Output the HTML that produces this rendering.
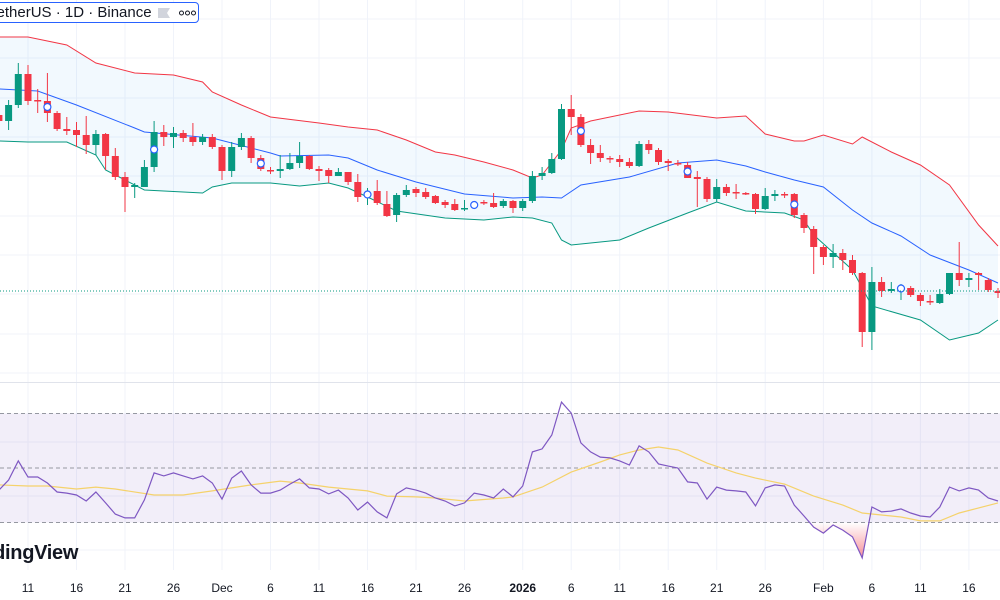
<!DOCTYPE html>
<html><head><meta charset="utf-8"><style>
html,body{margin:0;padding:0;background:#fff;width:1000px;height:600px;overflow:hidden;font-family:"Liberation Sans",sans-serif;}
#wrap{position:relative;width:1000px;height:600px;}
svg{position:absolute;left:0;top:0;}
.legend{position:absolute;left:-12px;top:2px;width:211px;height:21px;border:1px solid #2962ff;border-radius:4px;background:#fff;box-sizing:border-box;}
.legend span{position:absolute;top:1px;font-size:15px;color:#131722;white-space:nowrap;}
.logo{position:absolute;left:-36px;top:542px;font-size:20px;font-weight:bold;color:#131722;letter-spacing:-0.3px;}
</style></head><body>
<div id="wrap">
<svg id="chart" width="1000" height="600"></svg>
<div class="legend">
<span style="left:0px">TetherUS · 1D · Binance</span>
<svg style="left:168px;top:4px" width="14" height="12"><path d="M1 1 H13 L10 6 L13 11 H1 Z" fill="#d1d4dc"/></svg>
<svg style="left:190px;top:7px" width="18" height="6"><circle cx="2.5" cy="3" r="2" fill="none" stroke="#131722" stroke-width="1"/><circle cx="8.5" cy="3" r="2" fill="none" stroke="#131722" stroke-width="1"/><circle cx="14.5" cy="3" r="2" fill="none" stroke="#131722" stroke-width="1"/></svg>
</div>
<div class="logo">TradingView</div>
</div>
<script>
const firstDay = -3;
const opens  = [885,879,895,926,900,899,887,871,870,865,855,866,844,823,813,813,833,868,863,867,863,858,863,853,829,853,862,842,830,829,831,837,844,831,830,824,828,818,805,809,796,785,805,811,808,804,798,796,791,795,798,797,794,799,792,799,824,827,841,891,883,855,847,842,841,838,834,856,850,839,837,835,823,821,801,813,808,807,806,791,804,806,806,785,771,753,743,747,740,727,668,718,709,711,712,705,699,697,706,727,720,727,720,709];
const highs  = [888,900,937,935,911,927,889,883,878,884,870,867,852,828,817,840,879,875,873,870,877,866,866,855,858,867,864,845,833,845,847,858,845,834,832,832,828,826,812,820,809,807,815,813,812,805,800,801,800,797,800,807,801,800,801,829,833,847,896,905,886,861,855,844,845,842,859,860,852,841,840,838,829,823,821,816,816,808,807,812,810,808,807,787,774,755,756,751,745,728,733,723,718,716,714,707,705,711,727,758,727,728,722,712];
const lows   = [876,870,892,895,887,878,869,865,853,846,845,830,820,788,802,813,828,854,852,858,854,855,851,820,823,850,837,829,826,822,830,832,830,819,817,824,815,798,795,795,783,778,803,803,801,796,792,789,789,793,795,792,792,787,789,797,820,826,840,865,853,836,838,837,833,832,833,846,835,829,834,822,793,798,798,804,801,805,786,790,799,802,782,767,726,735,732,730,725,653,650,703,707,700,703,694,695,696,705,714,713,710,708,702];
const closes = [879,895,926,899,899,887,871,869,865,855,866,844,823,813,815,833,868,863,867,862,858,863,853,829,853,862,842,831,829,831,837,844,831,829,824,828,818,803,806,797,784,805,810,807,803,797,795,790,792,795,797,793,799,792,799,824,827,841,891,883,855,847,842,841,838,834,856,850,838,837,836,822,821,801,813,807,807,806,791,804,806,805,785,772,753,743,747,740,727,668,718,709,711,712,705,699,698,706,727,720,722,725,710,707];
const markerDays = [2,13,24,35,46,57,68,79,90];
const upperDays = [-3,0,4,7,11,15,18,19,22,25,30,33,36,39,42,44,47,50,52,53,55,56,58,60,63,66,71,74,76,79,80,82,85,86,89,92,95,98,100];
const upperVals = [963,963,955,937,927,925,918,908,895,883,877,873,870,860,848,845,838,830,822,825,850,872,879,883,889,888,882,884,866,859,859,865,856,863,848,835,815,775,754];
const middleDays = [-3,1,5,11,12,19,25,26,31,33,36,40,45,50,53,55,57,62,67,71,74,76,79,82,85,87,90,93,97,100];
const middleVals = [911,909,895,872,868,862,847,844,845,842,830,818,806,802,803,802,815,823,837,840,834,828,820,813,790,777,764,745,730,717];
const lowerDays = [-3,0,4,7,8,12,18,19,21,25,28,31,33,35,38,43,47,50,52,54,55,56,61,64,68,71,74,78,80,81,85,87,92,95,98,100];
const lowerVals = [859,858,858,845,830,810,807,813,817,817,814,817,812,803,789,782,780,783,782,777,760,755,760,772,787,798,789,787,780,765,730,694,680,660,667,680];
const rsiVals = [41.9,45.6,52.6,46.7,46.7,44.5,41.2,40.8,40.1,37.9,41.2,37.2,33.1,31.7,31.7,38.3,48.2,47.1,48.2,47.1,46.0,47.1,44.5,38.6,46.3,48.9,43.8,40.8,40.8,41.9,44.1,46.0,42.7,42.3,40.5,41.9,39.0,34.6,37.5,33.9,31.7,40.5,42.7,41.9,40.8,39.0,37.9,36.1,37.2,40.8,40.1,39.0,
42.3,39.4,43.4,55.9,57.0,62.1,74.2,70.2,59.2,55.9,54.0,53.7,52.6,51.1,58.1,55.9,51.5,50.7,50.0,44.9,44.5,38.6,43.0,41.9,41.6,41.2,36.1,42.7,43.8,43.4,36.4,32.4,28.3,26.1,29.1,27.2,24.7,17.0,35.7,33.9,34.2,35.0,33.5,32.4,32.0,35.7,43.0,41.6,42.7,41.9,39.0,37.9];
const maDays = [-3,0,2,5,7,9,13,16,19,23,26,28,31,35,37,40,42,45,49,50,53,56,59,61,63,65,67,70,73,75,78,81,84,86,90,92,94,96,100];
const maVals = [43.8,43.4,43.4,42.3,43.0,42.3,40.1,40.1,41.6,43.8,45.2,44.5,43.0,41.6,39.7,39.4,39.0,37.9,39.0,39.4,43.0,48.5,52.2,54.8,56.6,57.7,56.6,51.8,48.2,46.3,44.1,39.7,36.4,33.5,32.0,30.6,30.6,33.5,37.2];
const tickDays = [0,5,10,15,20,25,30,35,40,45,51,56,61,66,71,76,82,87,92,97];
const tickLabels = ["11","16","21","26","Dec","6","11","16","21","26","2026","6","11","16","21","26","Feb","6","11","16"];
const rsiLevels = [70,50,30];

const svg = document.getElementById('chart');
const NS = 'http://www.w3.org/2000/svg';
function xOf(d){ return 28 + 9.7*d; }
function yP(p){ return 0 + (1000 - p)*1; }
function yR(r){ return 468 - (r-50)*2.725; }
function mk(tag, attrs, parent){
  const e = document.createElementNS(NS, tag);
  for (const k in attrs) e.setAttribute(k, attrs[k]);
  (parent||svg).appendChild(e);
  return e;
}
const grid = mk('g',{});


[19,58,98,137,176,216,255,294,334,373,442,496,550].forEach(y=>{ mk('line',{x1:0,x2:1000,y1:y,y2:y,stroke:'#f0f3fa','stroke-width':1},grid); });
tickDays.forEach(d=>{ mk('line',{x1:xOf(d),x2:xOf(d),y1:0,y2:570,stroke:'#f0f3fa','stroke-width':1},grid); });
mk('line',{x1:0,x2:1000,y1:382.5,y2:382.5,stroke:'#e0e3eb','stroke-width':1},grid);

function pathFrom(days, vals, fy){ return days.map((d,i)=>(i?'L':'M')+xOf(d).toFixed(1)+' '+fy(vals[i]).toFixed(1)).join(' '); }
const up = pathFrom(upperDays, upperVals, yP);
const lowRev = lowerDays.map((d,i)=>[d,lowerVals[i]]).reverse();
const fillD = up + ' ' + lowRev.map(p=>'L'+xOf(p[0]).toFixed(1)+' '+yP(p[1]).toFixed(1)).join(' ') + ' Z';
const bandFill = mk('path',{d:fillD,fill:'rgba(33,150,243,0.06)'});


const ub = mk('path',{d:up,fill:'none',stroke:'#f23645','stroke-width':1});


const mb = mk('path',{d:pathFrom(middleDays,middleVals,yP),fill:'none',stroke:'#2962ff','stroke-width':1});


const lb = mk('path',{d:pathFrom(lowerDays,lowerVals,yP),fill:'none',stroke:'#089981','stroke-width':1});



const cg = mk('g',{});


opens.forEach((o,i)=>{
  const d = firstDay + i, c = closes[i];
  const col = c >= o ? '#089981' : '#f23645';
  const x = xOf(d);
  const g = mk('g',{},cg);
  
  
  mk('line',{x1:x,x2:x,y1:yP(highs[i]),y2:yP(lows[i]),stroke:col,'stroke-width':1},g);
  const top = Math.min(yP(o),yP(c)), h = Math.max(1.5, Math.abs(yP(o)-yP(c)));
  mk('rect',{x:x-3.5,y:top,width:7,height:h,fill:col},g);
});
markerDays.forEach(d=>{
  const i = d - firstDay;
  const cy = (yP(opens[i])+yP(closes[i]))/2;
  const m = mk('circle',{cx:xOf(d),cy:cy,r:3.5,fill:'#fff',stroke:'#2962ff','stroke-width':1.2});
  
  
});
const lp = mk('line',{x1:0,x2:1000,y1:yP(closes[closes.length-1])-2,y2:yP(closes[closes.length-1])-2,stroke:'#089981','stroke-width':1,'stroke-dasharray':'1 2'});



const rb = mk('rect',{x:0,y:yR(70),width:1000,height:yR(30)-yR(70),fill:'rgba(126,87,194,0.1)'});


rsiLevels.forEach(l=>{
  const ln = mk('line',{x1:0,x2:1000,y1:yR(l),y2:yR(l),stroke:'#9598a1','stroke-width':1,'stroke-dasharray':'4 3'});
  
  
});
const defs = mk('defs',{});
const cp = mk('clipPath',{id:'os'},defs);
mk('rect',{x:0,y:yR(30),width:1000,height:100},cp);
const gr = mk('linearGradient',{id:'osg',gradientUnits:'userSpaceOnUse',x1:0,y1:yR(30),x2:0,y2:yR(17)},defs);
mk('stop',{offset:'0','stop-color':'#f23645','stop-opacity':'0'},gr);
mk('stop',{offset:'1','stop-color':'#f23645','stop-opacity':'0.55'},gr);
const rsiDays = rsiVals.map((v,i)=>firstDay+i);
const rsiD = pathFrom(rsiDays, rsiVals, yR);
const os = mk('path',{d:rsiD+' L'+xOf(rsiDays[rsiDays.length-1])+' '+yR(30)+' L'+xOf(firstDay)+' '+yR(30)+' Z',fill:'url(#osg)','clip-path':'url(#os)'});


const ma = mk('path',{d:pathFrom(maDays,maVals,yR),fill:'none',stroke:'#f5d26b','stroke-width':1.2});


const rl = mk('path',{d:rsiD,fill:'none',stroke:'#7e57c2','stroke-width':1.2});



tickDays.forEach((d,i)=>{
  const t = mk('text',{x:xOf(d),y:592,'text-anchor':'middle','font-size':12,fill:'#131722','font-family':'Liberation Sans, sans-serif','font-weight':tickLabels[i]==='2026'?'bold':'normal'});
  t.textContent = tickLabels[i];
  
  
});
</script>
</body></html>
